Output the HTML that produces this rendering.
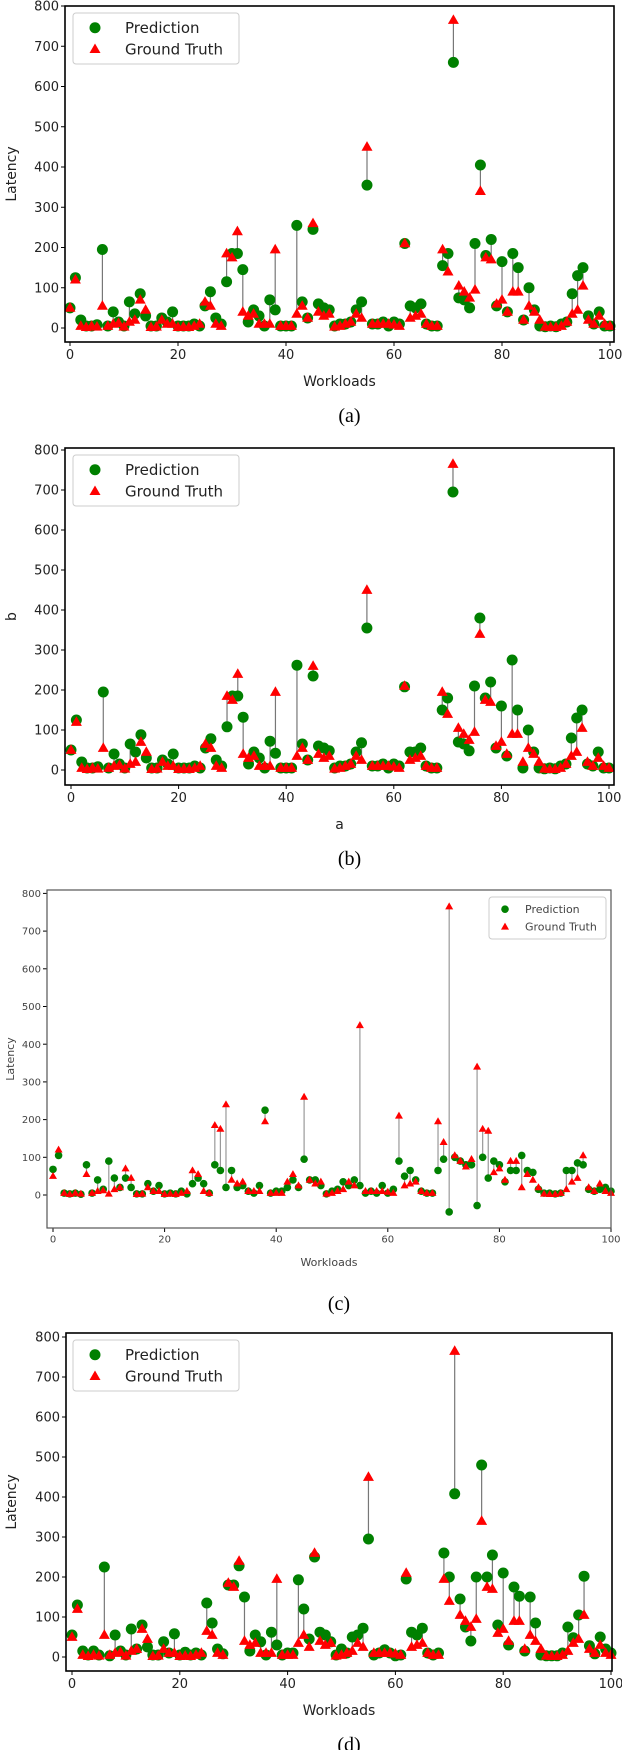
<!DOCTYPE html>
<html><head><meta charset="utf-8"><style>
html,body{margin:0;padding:0;background:#fff;}
svg{display:block;}
</style></head><body>
<svg id="fig" xmlns="http://www.w3.org/2000/svg" width="622" height="1750" viewBox="0 0 622 1750"></svg>
<script>
const workloads = Array.from({length:101},(_,i)=>i);
const groundTruth = [50,120,5,2,5,3,55,5,10,12,3,15,20,70,45,2,3,20,10,10,2,3,2,5,10,65,55,10,5,185,175,240,40,30,35,10,10,10,195,5,5,5,35,55,25,260,40,30,35,3,5,10,15,35,25,450,10,10,10,10,8,5,210,25,30,35,10,5,5,195,140,765,105,90,75,95,340,175,170,60,70,40,90,90,20,55,40,20,3,2,2,5,15,35,45,105,20,10,30,10,5];
const predA = [50,125,20,5,5,8,195,5,40,15,5,65,35,85,30,5,5,25,15,40,5,5,5,10,5,55,90,25,10,115,185,185,145,15,45,30,5,70,45,5,5,5,255,65,25,245,60,50,45,5,10,10,15,45,65,355,10,10,15,5,15,10,210,55,50,60,10,5,5,155,185,660,75,70,50,210,405,180,220,55,165,40,185,150,20,100,45,5,3,5,3,10,15,85,130,150,30,10,40,5,5];
const predB = [50,125,20,5,5,8,195,5,40,15,5,65,45,88,30,5,5,25,15,40,5,5,5,10,5,55,78,25,10,108,185,185,132,15,45,30,5,72,42,5,5,5,262,65,25,235,60,55,48,5,10,10,15,45,68,355,10,10,15,5,15,10,208,45,45,55,10,5,5,150,180,695,70,65,48,210,380,180,220,55,160,35,275,150,5,100,45,5,3,5,3,10,15,80,130,150,15,10,45,5,5];
const predC = [68,105,5,3,5,2,80,5,40,15,90,45,20,45,20,3,3,30,10,25,3,5,3,10,3,30,45,30,5,80,65,20,65,20,25,10,5,25,225,5,10,10,20,40,20,95,40,40,25,3,10,15,35,25,40,25,5,10,5,25,5,15,90,50,65,40,10,5,5,65,95,-45,100,90,80,80,-28,100,45,90,80,35,65,65,105,65,60,15,5,5,3,5,65,65,85,80,15,10,15,20,10];
const predD = [55,130,15,5,15,5,225,3,55,15,5,70,20,80,25,5,5,38,10,58,5,12,5,10,5,135,85,20,8,180,180,228,150,15,55,38,5,62,30,5,10,10,193,120,45,250,62,55,38,5,20,10,50,55,72,295,5,10,18,10,3,5,195,62,55,72,10,5,10,260,200,408,145,75,40,200,480,200,255,80,210,30,175,152,15,150,85,5,3,3,3,10,75,48,105,202,28,8,50,20,10];
const yTicks = [0,100,200,300,400,500,600,700,800];
const xTicks = [0,20,40,60,80,100];

const NS='http://www.w3.org/2000/svg';
const svg=document.getElementById('fig');
function mk(tag,attrs,parent){const e=document.createElementNS(NS,tag);for(const k in attrs)e.setAttribute(k,attrs[k]);(parent||svg).appendChild(e);return e;}

const panels=[
 {id:'a',pred:predA,L:65,R:614,T:6,B:342,x0:70,x100:610,y0:328,per:40.25,ylab:'Latency',xlab:'Workloads',cap:'(a)',small:false,legL:true},
 {id:'b',pred:predB,L:65,R:614,T:448,B:785,x0:71,x100:609,y0:770,per:40,ylab:'b',xlab:'a',cap:'(b)',small:false,legL:true},
 {id:'c',pred:predC,L:47,R:611,T:890,B:1228,x0:53,x100:611,y0:1195,per:37.7,ylab:'Latency',xlab:'Workloads',cap:'(c)',small:true,legL:false},
 {id:'d',pred:predD,L:66,R:612,T:1333,B:1671,x0:72,x100:611,y0:1657,per:40,ylab:'Latency',xlab:'Workloads',cap:'(d)',small:false,legL:true}
];

function tri(g,cx,cy,s,name){
  const h=s*0.87;
  const p=mk('polygon',{points:`${cx},${cy-h*0.6} ${cx-s/2},${cy+h*0.4} ${cx+s/2},${cy+h*0.4}`,fill:'#ff0000'},g);
  
  
  return p;
}

panels.forEach(P=>{
  const g=mk('g',{});
  
  
  const xs=v=>P.x0+(P.x100-P.x0)*v/100;
  const ys=v=>P.y0-P.per*v/100;
  const fs=P.small?10:13;
  const tc=P.small?'#444':'#222';
  const font='"DejaVu Sans","Liberation Sans",sans-serif';
  // ticks
  yTicks.forEach(t=>{
    const y=ys(t);
    mk('line',{x1:P.L-4,x2:P.L,y1:y,y2:y,stroke:'#000','stroke-width':1},g);
    const tx=mk('text',{x:P.L-6,y:y+fs*0.36,'text-anchor':'end','font-size':fs,'font-family':font,fill:tc},g);
    tx.textContent=t;
    
    
  });
  xTicks.forEach(t=>{
    const x=xs(t);
    mk('line',{x1:x,x2:x,y1:P.B,y2:P.B+4,stroke:'#000','stroke-width':1},g);
    const tx=mk('text',{x:x,y:P.B+6+fs*0.85,'text-anchor':'middle','font-size':fs,'font-family':font,fill:tc},g);
    tx.textContent=t;
    
    
  });
  // connectors
  workloads.forEach(i=>{
    const ln=mk('line',{x1:xs(i),x2:xs(i),y1:ys(P.pred[i]),y2:ys(groundTruth[i]),stroke:P.small?'#999':'#777','stroke-width':1.2},g);
    
    
  });
  const r=P.small?3.8:5.5, ts=P.small?8:11;
  workloads.forEach(i=>{
    const c=mk('circle',{cx:xs(i),cy:ys(P.pred[i]),r:r,fill:'#008000'},g);
    
    
  });
  workloads.forEach(i=>{ tri(g,xs(i),ys(groundTruth[i]),ts,'ground-truth-point'); });
  // frame
  const fr=mk('rect',{x:P.L,y:P.T,width:P.R-P.L,height:P.B-P.T,fill:'none',stroke:P.small?'#555':'#000','stroke-width':P.small?1.2:1.6},g);
  
  
  // labels
  const xl=mk('text',{x:(P.L+P.R)/2,y:P.B+(P.small?38:44),'text-anchor':'middle','font-size':P.small?11:14,'font-family':font,fill:tc},g);
  xl.textContent=P.xlab;
  
  
  const yc=(P.T+P.B)/2;
  const yl=mk('text',{x:P.small?14:16,y:yc,'text-anchor':'middle','font-size':P.small?11:14,'font-family':font,fill:tc,transform:`rotate(-90 ${P.small?14:16} ${yc})`},g);
  yl.textContent=P.ylab;
  
  
  const cp=mk('text',{x:(P.L+P.R)/2+10,y:P.B+(P.id==='c'?82:80),'text-anchor':'middle','font-size':20,'font-family':'"Liberation Serif",serif',fill:'#000'},g);
  cp.textContent=P.cap;
  
  
  // legend
  const lg=mk('g',{},g);
  
  
  let bx,by,bw,bh,lfs;
  if(P.legL){bx=73;by=P.T+7;bw=166;bh=51;lfs=15;}else{bx=489;by=P.T+7;bw=117;bh=42;lfs=11;}
  mk('rect',{x:bx,y:by,width:bw,height:bh,rx:3,fill:'#fff',stroke:'#ccc','stroke-width':1},lg);
  const mx=bx+(P.legL?22:16), tx0=bx+(P.legL?52:36);
  const r1=by+bh*0.29, r2=by+bh*0.71;
  mk('circle',{cx:mx,cy:r1,r:r,fill:'#008000'},lg);
  tri(lg,mx,r2,ts,'legend-triangle');
  const t1=mk('text',{x:tx0,y:r1+lfs*0.35,'font-size':lfs,'font-family':font,fill:tc},lg);
  t1.textContent='Prediction';
  
  
  const t2=mk('text',{x:tx0,y:r2+lfs*0.35,'font-size':lfs,'font-family':font,fill:tc},lg);
  t2.textContent='Ground Truth';
  
  
});
</script>
</body></html>
